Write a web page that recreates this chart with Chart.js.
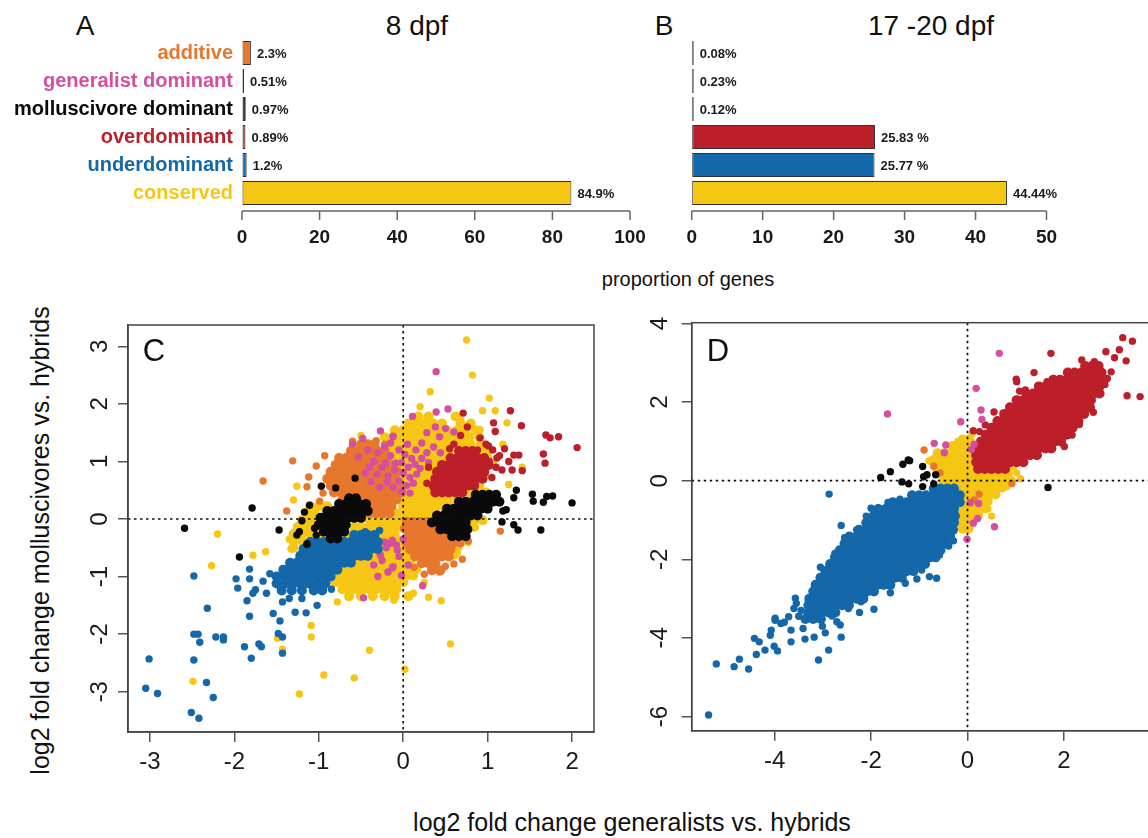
<!DOCTYPE html>
<html>
<head>
<meta charset="utf-8">
<script src="https://cdn.jsdelivr.net/npm/chart.js@4.4.1/dist/chart.umd.min.js"></script>
<style>
html, body { margin: 0; padding: 0; background: #fff; width: 1148px; height: 838px; overflow: hidden; }
body { position: relative; font-family: "Liberation Sans", Arial, sans-serif; color: #111; }
canvas { position: absolute; }
.t { position: absolute; white-space: nowrap; line-height: 1; }
</style>
</head>
<body>
<div class="t" style="left:85px;top:12px;font-size:28px;transform:translateX(-50%)">A</div>
<div class="t" style="left:417px;top:12px;font-size:28px;transform:translateX(-50%)">8 dpf</div>
<div class="t" style="left:664px;top:12px;font-size:28px;transform:translateX(-50%)">B</div>
<div class="t" style="left:931px;top:12px;font-size:28px;transform:translateX(-50%)">17 -20 dpf</div>
<div class="t" style="left:688px;top:269px;font-size:20px;transform:translateX(-50%)">proportion of genes</div>
<div class="t" style="left:632px;top:810px;font-size:25px;transform:translateX(-50%)">log2 fold change generalists vs. hybrids</div>
<div class="t" style="left:-260px;top:528px;width:600px;height:25px;font-size:25px;text-align:center;transform:rotate(-90deg)">log2 fold change molluscivores vs. hybrids</div>

<canvas id="barA" width="660" height="260" style="left:0;top:0"></canvas>
<canvas id="barB" width="488" height="260" style="left:660px;top:0"></canvas>
<canvas id="scatC" width="560" height="500" style="left:60px;top:300px"></canvas>
<canvas id="scatD" width="620" height="500" style="left:620px;top:300px"></canvas>

<div class="t" style="left:154px;top:335px;font-size:31px;transform:translateX(-50%)">C</div>
<div class="t" style="left:718px;top:335px;font-size:31px;transform:translateX(-50%)">D</div>

<script>
// ---- bar panels ----
const categories = ["additive", "generalist dominant", "molluscivore dominant", "overdominant", "underdominant", "conserved"];
const catColors = ["#e8772e", "#d64f9e", "#0a0a0a", "#bc1f29", "#1468a9", "#f5c714"];
const share8 = [2.3, 0.51, 0.97, 0.89, 1.2, 84.9];
const share8Labels = ["2.3%", "0.51%", "0.97%", "0.89%", "1.2%", "84.9%"];
const share17 = [0.08, 0.23, 0.12, 25.83, 25.77, 44.44];
const share17Labels = ["0.08%", "0.23%", "0.12%", "25.83 %", "25.77 %", "44.44%"];

// ---- scatter panel C (8 dpf): rows are [y, x, x, ...] (dense cores), points are [x, y] ----
const cYellowRows = [
  [1.78, 0.18, 0.30, 0.62],
  [1.66, 0.06, 0.16, 0.26, 0.36, 0.46, 0.68, 0.80],
  [1.54, -0.10, 0.00, 0.10, 0.20, 0.30, 0.40, 0.52, 0.64, 0.74, 0.86],
  [1.42, -0.22, -0.12, -0.02, 0.08, 0.18, 0.28, 0.38, 0.48, 0.58, 0.68, 0.78, 0.90],
  [1.30, -0.20, -0.10, 0.00, 0.10, 0.20, 0.30, 0.40, 0.50, 0.60, 0.70, 0.80, 0.92],
  [1.18, -0.16, -0.06, 0.04, 0.14, 0.24, 0.34, 0.44, 0.54, 0.90, 1.00],
  [1.06, -0.12, -0.02, 0.08, 0.18, 0.28, 0.38, 0.48, 1.00],
  [0.94, -0.06, 0.04, 0.14, 0.24, 0.34, 0.40, 1.06],
  [0.82, -0.04, 0.06, 0.16, 0.26, 0.34],
  [0.70, 0.00, 0.10, 0.20, 0.30],
  [0.58, 0.00, 0.10, 0.20, 0.28, 0.90],
  [0.46, 0.04, 0.12, 0.20, 0.28, 0.78, 0.88, 0.98],
  [0.34, -0.70, -0.62, 0.00, 0.08, 0.16, 0.24, 0.32, 0.40, 0.48, 0.56, 0.64],
  [0.22, -1.10, -1.00, -0.90, 0.00, 0.08, 0.16, 0.24, 0.32, 0.40, 0.48],
  [0.10, -1.15, -1.05, -0.40, -0.32, -0.24, -0.16, -0.08, 0.00, 0.08, 0.16, 0.24, 0.32],
  [-0.02, -1.20, -1.10, -0.40, -0.32, -0.24, -0.16, -0.08, 0.00, 0.08, 0.16, 0.24, 0.84, 0.94],
  [-0.14, -1.25, -1.15, -1.05, -0.58, -0.50, -0.42, -0.34, -0.26, -0.18, -0.10, -0.02, 0.06, 0.84],
  [-0.26, -1.30, -1.20, -1.10, -1.00, -0.66, -0.58, -0.50, -0.42, -0.34, -0.26, -0.18, -0.10, 0.60, 0.70],
  [-0.38, -1.30, -1.20, -0.22, -0.14, -0.06, 0.02, 0.70],
  [-0.50, -1.30, -0.24, -0.16, -0.08, 0.00, 0.64],
  [-0.62, -0.40, -0.32, -0.24, -0.16, -0.08, 0.00, 0.08, 0.60],
  [-0.74, -0.56, -0.48, -0.40, -0.32, -0.24, -0.16, -0.08, 0.00, 0.08],
  [-0.86, -0.72, -0.64, -0.56, -0.48, -0.40, -0.32, -0.24, -0.16, -0.08, 0.00, 0.08, 0.16],
  [-0.98, -0.76, -0.68, -0.60, -0.52, -0.44, -0.36, -0.28, -0.20, -0.12, -0.04, 0.04, 0.12],
  [-1.10, -0.80, -0.72, -0.64, -0.56, -0.48, -0.40, -0.32, -0.24, -0.16, -0.08, 0.00],
  [-1.22, -0.72, -0.64, -0.56, -0.48, -0.40, -0.32, -0.24, -0.16, -0.08],
  [-1.34, -0.64, -0.50, -0.36, -0.22, -0.10, 0.06]
];
const cYellowPts = [
  [0.75, 3.11], [0.82, 2.5], [0.32, 2.21], [1.02, 2.1], [1.09, 1.88], [0.94, 1.88], [1.23, 1.67], [0.68, 1.72],
  [0.76, 1.41], [0.91, 1.55], [1.41, 0.9], [0.56, -2.17], [0.02, -2.61], [0.45, -1.42], [0.3, -1.36], [-0.11, -1.41],
  [0.12, -1.29], [0.64, -0.59], [0.77, -0.41], [-2.27, -0.81], [-1.78, -0.63], [-1.63, -0.57], [-2.49, -2.82],
  [-1.09, -1.85], [-1.09, -2.05], [-1.43, -2.26], [-1.49, -2.07], [-0.94, -2.71], [-0.58, -2.76], [-1.23, -3.04],
  [-0.4, -2.28], [-0.78, -1.44], [-0.65, -1.36], [-2.2, -0.26], [-1.3, 0.33], [-1.26, 0.57], [-1.35, -0.35],
  [-1.33, -0.52], [-0.34, 1.27], [-0.24, 1.11], [-0.12, 1.22], [1.18, 1.3], [1.25, 0.6], [0.98, 0.75],
  [-0.5, 1.45], [0.2, 1.95], [-0.95, -1.2], [0.25, -1.1], [0.35, -0.9]
];
const cOrangeRows = [
  [1.30, -0.50, -0.42, -0.34],
  [1.18, -0.62, -0.54, -0.46, -0.38, -0.30, -0.22],
  [1.06, -0.76, -0.68, -0.60, -0.52, -0.44, -0.36, -0.28, -0.20],
  [0.94, -0.80, -0.72, -0.64, -0.56, -0.48, -0.40, -0.32, -0.24, -0.16],
  [0.82, -0.86, -0.78, -0.70, -0.62, -0.54, -0.46, -0.38, -0.30, -0.22, -0.14, -0.07],
  [0.70, -0.90, -0.82, -0.74, -0.66, -0.58, -0.50, -0.42, -0.34, -0.26, -0.18, -0.10],
  [0.58, -0.86, -0.78, -0.70, -0.62, -0.54, -0.46, -0.38, -0.30, -0.22, -0.14, -0.06],
  [0.46, -0.82, -0.74, -0.66, -0.58, -0.50, -0.42, -0.34, -0.26, -0.18, -0.10, -0.02],
  [0.34, -0.72, -0.64, -0.56, -0.48, -0.40, -0.32, -0.24, -0.16, -0.08],
  [0.22, -0.62, -0.54, -0.46, -0.38, -0.30, -0.22, -0.14],
  [0.10, -0.48, -0.40, -0.32, -0.24, -0.16],
  [-0.05, 0.04, 0.12, 0.20, 0.28],
  [-0.17, 0.02, 0.10, 0.18, 0.26, 0.34, 0.42],
  [-0.29, 0.06, 0.14, 0.22, 0.30, 0.38, 0.46, 0.54],
  [-0.41, 0.04, 0.12, 0.20, 0.28, 0.36, 0.44, 0.52, 0.60],
  [-0.53, 0.08, 0.16, 0.24, 0.32, 0.40, 0.48, 0.56],
  [-0.65, 0.14, 0.22, 0.30, 0.38, 0.46, 0.54],
  [-0.77, 0.22, 0.30, 0.38],
  [-0.89, 0.34, 0.44]
];
const cOrangePts = [
  [-1.31, 1.01], [-1.66, 0.66], [-1.12, 0.73], [-1.03, 0.92], [-1.14, 0.56], [-0.99, 0.31], [-1.38, 0.14],
  [-0.32, 1.36], [-0.93, 1.1], [-0.95, 0.45], [-0.6, 1.35], [-0.22, 1.3], [0.68, -0.43], [0.5, -0.82],
  [0.43, -0.92], [0.23, -0.77], [0.25, -0.96], [0.13, -0.84], [1.15, -0.21], [0.77, -0.38], [0.7, -0.7], [0.6, -0.78]
];
const cPinkPts = [
  [-0.27, 1.53], [-0.12, 1.44], [-0.53, 1.08], [-0.45, 0.8], [-0.31, 0.78], [-0.21, 0.97], [-0.19, 0.64], [-0.09, 0.97],
  [0.39, 2.56], [0.53, 1.91], [0.39, 1.86], [0.11, 1.78], [-0.12, 1.43], [0.38, 1.6], [0.5, 1.57], [0.6, 1.51],
  [0.28, 1.5], [0.43, 1.43], [0.36, 1.25], [0.44, 1.15], [0.22, 1.32], [-0.05, 1.2], [0.02, 1.12], [0.1, 1.05],
  [-0.15, 1.1], [-0.02, 0.98], [0.06, 0.9], [0.14, 0.95], [-0.1, 0.85], [0.0, 0.8], [0.08, 0.72], [0.16, 0.78],
  [-0.18, 0.75], [-0.05, 0.66], [0.04, 0.58], [0.12, 0.62], [-0.12, 0.55], [-0.02, 0.48], [0.08, 0.45], [-0.25, 0.9],
  [-0.35, 1.0], [-0.3, 1.15], [-0.22, 1.25], [-0.4, 0.9], [-0.38, 0.65], [-0.28, 0.55], [0.2, 0.88], [0.22, 1.05],
  [0.28, 1.15], [0.3, 0.98], [-0.42, 1.2], [-0.15, 1.32], [0.05, 1.3], [0.15, 1.2], [-0.6, 1.3], [-0.48, 1.4],
  [-0.13, -0.37], [-0.07, -0.54], [-0.15, -0.42], [-0.27, -0.63], [-0.12, -0.83], [-0.47, -1.37], [-0.13, -0.85],
  [0.06, -0.8], [0.23, -1.16], [-0.2, -0.5], [-0.25, -0.72], [-0.3, -0.55], [-0.05, -0.65], [-0.18, -0.92],
  [-0.08, -0.45], [-0.35, -0.8], [-0.22, -0.4], [0.0, -0.35], [-0.02, -0.98], [-0.3, -1.0]
];
const cRedRows = [
  [1.18, 0.66, 0.74, 0.82],
  [1.06, 0.56, 0.64, 0.72, 0.80, 0.88, 0.96],
  [0.94, 0.46, 0.54, 0.62, 0.70, 0.78, 0.86, 0.94, 1.01],
  [0.82, 0.40, 0.48, 0.56, 0.64, 0.72, 0.80, 0.88, 0.96],
  [0.70, 0.38, 0.46, 0.54, 0.62, 0.70, 0.78, 0.86, 0.94],
  [0.58, 0.36, 0.44, 0.52, 0.60, 0.68, 0.76, 0.84],
  [0.46, 0.38, 0.46, 0.54, 0.62, 0.70]
];
const cRedPts = [
  [0.71, 1.84], [1.27, 1.88], [1.4, 1.62], [1.69, 1.46], [1.74, 1.41], [1.84, 1.43], [2.06, 1.24], [1.66, 1.13],
  [1.68, 0.97], [1.41, 0.84], [1.29, 0.85], [1.37, 1.11], [1.31, 1.11], [0.76, 1.6], [1.07, 1.67], [1.09, 1.52],
  [1.01, 1.27], [0.91, 1.41], [1.17, 0.85], [1.11, 1.06], [1.06, 1.2], [1.14, 1.1], [1.2, 1.22], [1.25, 1.0],
  [1.02, 1.0], [1.1, 0.9], [0.98, 1.3], [0.6, 1.3], [0.68, 1.45], [0.55, 1.22], [0.88, 1.2], [0.3, 0.9],
  [0.28, 0.62], [1.05, 0.72]
];
const cBlackRows = [
  [0.42, 0.86, 0.94, 1.02, 1.10],
  [0.30, 0.66, 0.74, 0.82, 0.90, 0.98, 1.06, 1.14],
  [0.18, 0.52, 0.60, 0.68, 0.76, 0.84, 0.92, 1.00],
  [0.06, 0.40, 0.48, 0.56, 0.64, 0.72, 0.80, 0.88],
  [-0.06, 0.34, 0.42, 0.50, 0.58, 0.66, 0.74],
  [-0.18, 0.44, 0.52, 0.60, 0.68, 0.76],
  [-0.30, 0.58, 0.66, 0.74],
  [0.36, -0.64, -0.56],
  [0.26, -0.76, -0.68, -0.60, -0.52, -0.44],
  [0.14, -0.90, -0.82, -0.74, -0.66, -0.58, -0.50, -0.42],
  [0.02, -0.98, -0.90, -0.82, -0.74, -0.66, -0.58, -0.50],
  [-0.10, -1.00, -0.92, -0.84, -0.76, -0.68],
  [-0.22, -0.94, -0.86, -0.78, -0.70],
  [-0.34, -0.86, -0.78]
];
const cBlackPts = [
  [-2.59, -0.16], [-1.79, 0.19], [-1.47, -0.19], [-1.94, -0.66], [-1.14, -0.44], [-0.97, 0.57], [-0.8, 0.54],
  [-0.57, 0.71], [-1.11, 0.24], [-1.17, 0.12], [-1.2, -0.03], [-1.23, -0.22], [-1.26, -0.28], [-1.14, -0.43],
  [-1.05, -0.16], [-1.03, -0.28], [1.34, 0.5], [1.53, 0.43], [1.54, 0.31], [1.66, 0.29], [1.7, 0.39], [1.77, 0.4],
  [2.0, 0.28], [1.31, 0.37], [1.63, -0.19], [1.36, -0.19], [1.31, -0.1], [1.17, -0.05], [1.18, 0.14], [1.22, 0.16],
  [1.09, 0.38]
];
const cBlueRows = [
  [-0.28, -0.58, -0.50, -0.42, -0.34],
  [-0.40, -1.10, -1.02, -0.94, -0.86, -0.78, -0.70, -0.62, -0.54, -0.46, -0.38, -0.30],
  [-0.52, -1.18, -1.10, -1.02, -0.94, -0.86, -0.78, -0.70, -0.62, -0.54, -0.46, -0.38, -0.30],
  [-0.64, -1.22, -1.14, -1.06, -0.98, -0.90, -0.82, -0.74, -0.66, -0.58, -0.50, -0.42],
  [-0.76, -1.34, -1.26, -1.18, -1.10, -1.02, -0.94, -0.86, -0.78, -0.70, -0.62],
  [-0.88, -1.42, -1.34, -1.26, -1.18, -1.10, -1.02, -0.94, -0.86, -0.78],
  [-1.00, -1.50, -1.42, -1.34, -1.26, -1.18, -1.10, -1.02, -0.94, -0.86],
  [-1.12, -1.50, -1.40, -1.30, -1.22, -1.12, -1.02, -0.92],
  [-1.24, -1.44, -1.32, -1.20, -1.06, -0.96]
];
const cBluePts = [
  [-2.48, -0.99], [-1.98, -1.04], [-1.96, -1.2], [-1.82, -0.87], [-1.82, -1.04], [-1.85, -1.42], [-1.78, -1.29],
  [-1.75, -1.23], [-1.62, -1.29], [-1.82, -1.69], [-2.32, -1.55], [-2.48, -2.0], [-2.43, -2.0], [-2.41, -2.14],
  [-2.22, -2.05], [-2.13, -2.05], [-2.13, -2.1], [-3.01, -2.43], [-2.48, -2.45], [-3.05, -2.94], [-2.91, -3.03],
  [-2.33, -2.84], [-2.25, -3.1], [-2.51, -3.36], [-2.42, -3.46], [-1.88, -2.22], [-1.8, -2.42], [-1.71, -2.17],
  [-1.68, -2.22], [-1.48, -1.99], [-1.43, -2.05], [-1.43, -2.33], [-1.46, -1.77], [-1.54, -1.64], [-1.43, -1.44],
  [-1.28, -1.62], [-1.15, -1.63], [-1.02, -1.5], [-1.5, -1.1], [-1.58, -0.95], [-1.66, -1.08], [-1.35, -1.38],
  [-1.2, -1.38], [-0.85, -1.22], [-0.28, -0.2], [-0.45, -0.22]
];

// ---- scatter panel D (17-20 dpf) ----
const dYellowRows = [
  [1.05, -0.10, 0.04],
  [0.88, -0.30, -0.16, -0.02, 0.12],
  [0.70, -0.62, -0.48, -0.34, -0.20, -0.06, 0.08],
  [0.53, -0.70, -0.56, -0.42, -0.28, -0.14, 0.00, 0.12],
  [0.35, -0.66, -0.52, -0.38, -0.24, -0.10, 0.04, 0.14],
  [0.18, -0.56, -0.42, -0.28, -0.14, 0.00, 0.14, 0.28, 0.42, 0.56, 0.70, 0.84],
  [0.00, -0.50, -0.36, -0.22, -0.08, 0.06, 0.20, 0.34, 0.48, 0.62, 0.76, 0.90],
  [-0.17, -0.40, -0.26, -0.12, 0.02, 0.16, 0.30, 0.44, 0.58, 0.72],
  [-0.35, -0.26, -0.12, 0.02, 0.16, 0.30, 0.44, 0.58],
  [-0.52, -0.14, 0.00, 0.14, 0.28, 0.42],
  [-0.70, -0.18, -0.04, 0.10, 0.24, 0.36],
  [-0.87, -0.20, -0.06, 0.08, 0.22],
  [-1.05, -0.16, -0.02, 0.10],
  [-1.22, -0.10, 0.02]
];
const dYellowPts = [
  [1.02, 0.2], [0.95, 0.35], [1.1, 0.05], [0.5, -0.9], [0.42, -0.72], [0.82, -0.15], [-0.8, 0.5], [0.1, 1.2], [-0.2, 1.0]
];
const dRedRows = [
  [0.30, 0.22, 0.36, 0.50, 0.64, 0.78],
  [0.47, 0.18, 0.32, 0.46, 0.60, 0.74, 0.88, 1.02, 1.16],
  [0.65, 0.18, 0.32, 0.46, 0.60, 0.74, 0.88, 1.02, 1.16, 1.30, 1.44],
  [0.82, 0.22, 0.36, 0.50, 0.64, 0.78, 0.92, 1.06, 1.20, 1.34, 1.48, 1.62, 1.74],
  [1.00, 0.28, 0.42, 0.56, 0.70, 0.84, 0.98, 1.12, 1.26, 1.40, 1.54, 1.68, 1.82, 1.94],
  [1.17, 0.38, 0.52, 0.66, 0.80, 0.94, 1.08, 1.22, 1.36, 1.50, 1.64, 1.78, 1.92, 2.06],
  [1.35, 0.50, 0.64, 0.78, 0.92, 1.06, 1.20, 1.34, 1.48, 1.62, 1.76, 1.90, 2.04, 2.18],
  [1.52, 0.62, 0.76, 0.90, 1.04, 1.18, 1.32, 1.46, 1.60, 1.74, 1.88, 2.02, 2.16, 2.30],
  [1.70, 0.76, 0.90, 1.04, 1.18, 1.32, 1.46, 1.60, 1.74, 1.88, 2.02, 2.16, 2.30, 2.42],
  [1.87, 0.88, 1.02, 1.16, 1.30, 1.44, 1.58, 1.72, 1.86, 2.00, 2.14, 2.28, 2.42, 2.54],
  [2.05, 1.02, 1.16, 1.30, 1.44, 1.58, 1.72, 1.86, 2.00, 2.14, 2.28, 2.42, 2.56],
  [2.22, 1.22, 1.36, 1.50, 1.64, 1.78, 1.92, 2.06, 2.20, 2.34, 2.48, 2.62, 2.74],
  [2.40, 1.48, 1.62, 1.76, 1.90, 2.04, 2.18, 2.32, 2.46, 2.60, 2.74],
  [2.57, 1.78, 1.92, 2.06, 2.20, 2.34, 2.48, 2.62, 2.76],
  [2.75, 2.08, 2.22, 2.36, 2.50, 2.64, 2.78],
  [2.92, 2.44, 2.58, 2.72]
];
const dRedPts = [
  [1.73, 3.24], [3.22, 3.64], [3.42, 3.55], [2.87, 3.28], [3.15, 3.33], [3.05, 3.13], [3.29, 3.05], [2.37, 3.07],
  [2.63, 3.03], [3.31, 2.16], [3.58, 2.14], [2.61, 1.74], [2.32, 1.43], [2.01, 0.87], [2.17, 1.16], [1.38, 2.75],
  [1.01, 2.58], [1.02, 2.52], [1.08, 2.28], [1.2, 2.31], [1.65, 2.52], [2.74, 2.77], [2.98, 2.77], [0.12, 1.27],
  [0.37, 1.42], [0.25, 1.25], [2.9, 2.6], [2.85, 2.45], [0.55, 1.75]
];
const dBlueRows = [
  [-0.20, -0.70, -0.56, -0.42, -0.28],
  [-0.37, -1.15, -1.00, -0.86, -0.72, -0.58, -0.44, -0.30, -0.16],
  [-0.55, -1.55, -1.40, -1.26, -1.12, -0.98, -0.84, -0.70, -0.56, -0.42, -0.28, -0.16],
  [-0.72, -1.85, -1.70, -1.55, -1.40, -1.26, -1.12, -0.98, -0.84, -0.70, -0.56, -0.42, -0.28],
  [-0.90, -1.95, -1.80, -1.66, -1.52, -1.38, -1.24, -1.10, -0.96, -0.82, -0.68, -0.54, -0.40, -0.26],
  [-1.07, -2.10, -1.95, -1.80, -1.66, -1.52, -1.38, -1.24, -1.10, -0.96, -0.82, -0.68, -0.54, -0.40, -0.28],
  [-1.25, -2.25, -2.10, -1.95, -1.80, -1.66, -1.52, -1.38, -1.24, -1.10, -0.96, -0.82, -0.68, -0.54, -0.40, -0.30],
  [-1.42, -2.45, -2.30, -2.16, -2.02, -1.88, -1.74, -1.60, -1.46, -1.32, -1.18, -1.04, -0.90, -0.76, -0.62, -0.48, -0.36],
  [-1.60, -2.55, -2.40, -2.26, -2.12, -1.98, -1.84, -1.70, -1.56, -1.42, -1.28, -1.14, -1.00, -0.86, -0.72, -0.58, -0.46],
  [-1.77, -2.65, -2.50, -2.36, -2.22, -2.08, -1.94, -1.80, -1.66, -1.52, -1.38, -1.24, -1.10, -0.96, -0.82, -0.68, -0.56],
  [-1.95, -2.75, -2.60, -2.46, -2.32, -2.18, -2.04, -1.90, -1.76, -1.62, -1.48, -1.34, -1.20, -1.06, -0.92, -0.78, -0.66],
  [-2.12, -2.85, -2.70, -2.56, -2.42, -2.28, -2.14, -2.00, -1.86, -1.72, -1.58, -1.44, -1.30, -1.16, -1.02, -0.88],
  [-2.30, -2.95, -2.80, -2.66, -2.52, -2.38, -2.24, -2.10, -1.96, -1.82, -1.68, -1.54, -1.40, -1.26, -1.12],
  [-2.47, -3.05, -2.90, -2.76, -2.62, -2.48, -2.34, -2.20, -2.06, -1.92, -1.78, -1.64, -1.50, -1.36],
  [-2.65, -3.15, -3.00, -2.86, -2.72, -2.58, -2.44, -2.30, -2.16, -2.02, -1.88, -1.74, -1.60],
  [-2.82, -3.20, -3.06, -2.92, -2.78, -2.64, -2.50, -2.36, -2.22, -2.08, -1.94],
  [-3.00, -3.28, -3.14, -3.00, -2.86, -2.72, -2.58, -2.44, -2.30, -2.16],
  [-3.17, -3.30, -3.16, -3.02, -2.88, -2.74, -2.60, -2.46],
  [-3.35, -3.30, -3.16, -3.02, -2.88, -2.74],
  [-3.52, -3.36, -3.20, -3.04]
];
const dBluePts = [
  [-5.37, -5.96], [-5.21, -4.66], [-4.84, -4.73], [-4.73, -4.54], [-4.54, -4.79], [-4.38, -4.42], [-4.42, -4.01],
  [-4.32, -4.1], [-4.2, -4.31], [-4.09, -3.93], [-4.07, -3.8], [-3.99, -3.5], [-4.01, -4.21], [-3.94, -4.33],
  [-3.87, -3.63], [-3.66, -3.8], [-3.66, -4.1], [-3.71, -3.46], [-3.57, -2.99], [-3.55, -3.12], [-3.41, -3.76],
  [-3.37, -4.03], [-3.3, -3.06], [-3.18, -3.98], [-3.09, -4.56], [-3.01, -3.7], [-2.95, -3.87], [-2.88, -4.31],
  [-2.81, -3.44], [-2.71, -3.59], [-2.64, -3.67], [-2.62, -3.98], [-2.47, -3.25], [-2.24, -3.35], [-1.94, -3.27],
  [-2.21, -3.08], [-3.99, -3.55], [-3.19, -2.82], [-2.87, -0.34], [-2.62, -1.14], [-1.4, -0.47], [-2.0, -0.7],
  [-1.85, -0.7], [-0.64, -2.48], [-0.79, -2.44], [-0.58, -1.89], [-0.39, -1.66], [-0.29, -1.53], [-0.95, -2.27],
  [-1.29, -2.61], [-3.45, -3.3], [-3.6, -3.25], [-3.8, -3.6], [-3.5, -3.45], [-2.3, -1.25], [-2.55, -1.45],
  [-2.1, -0.9], [-1.65, -0.55], [-3.05, -2.2], [-2.75, -1.85], [-1.05, -2.5], [-1.6, -2.85]
];
const dPinkPts = [
  [-1.66, 1.70], [0.66, 3.24], [0.18, 2.35], [0.28, 1.8], [0.3, 1.56], [-0.14, 1.5], [-0.69, 0.95], [-0.45, 0.91],
  [0.14, 0.93], [0.08, 0.8], [-0.48, 0.71], [0.06, -0.56], [0.23, -0.58], [0.21, -0.96], [0.12, -1.08],
  [0.56, -1.17], [-0.01, -1.49]
];
const dOrangePts = [[-0.9, 0.78], [-0.7, 0.37], [-0.57, 0.2], [0.92, -0.07], [0.24, -0.34], [0.14, -0.49]];
const dBlackPts = [
  [-1.8, 0.08], [-1.6, 0.23], [-1.34, 0.42], [-1.23, 0.53], [-1.36, -0.03], [-1.22, -0.08], [-0.93, 0.36],
  [-0.84, 0.15], [-0.91, 0.1], [-0.66, 0.15], [-0.93, -0.15], [-0.7, -0.08], [1.67, -0.17], [-1.2, 0.51]
];

const FONT = "'Liberation Sans', Arial, sans-serif";
Chart.defaults.font.family = FONT;
Chart.defaults.color = "#1a1a1a";

// rows stand for the crowded cores, so their dots are drawn a bit larger to close the gaps
const toPoints = (rows, extra) => {
  const pts = [];
  rows.forEach(([y, ...xs]) => xs.forEach((x) => pts.push({ x, y, core: true })));
  extra.forEach(([x, y]) => pts.push({ x, y, core: false }));
  return pts;
};

// value text right of each bar
const barValueLabels = {
  id: "barValueLabels",
  afterDatasetsDraw(chart, args, opts) {
    const ctx = chart.ctx;
    ctx.save();
    ctx.font = "bold 13px " + FONT;
    ctx.fillStyle = "#1a1a1a";
    ctx.textBaseline = "middle";
    chart.getDatasetMeta(0).data.forEach((bar, i) => {
      ctx.fillText(opts.labels[i], bar.x + 6, bar.y + 1);
    });
    ctx.restore();
  },
};

// R-style x axis: line from first to last tick, a little below the bars
const barAxis = {
  id: "barAxis",
  afterDraw(chart) {
    const { ctx, chartArea } = chart;
    const s = chart.scales.x;
    const y = chartArea.bottom + 4;
    ctx.save();
    ctx.strokeStyle = "#666";
    ctx.lineWidth = 1.5;
    ctx.beginPath();
    ctx.moveTo(s.getPixelForValue(s.min), y);
    ctx.lineTo(s.getPixelForValue(s.max), y);
    s.ticks.forEach((t) => {
      const px = s.getPixelForValue(t.value);
      ctx.moveTo(px, y);
      ctx.lineTo(px, y + 9);
    });
    ctx.stroke();
    ctx.restore();
  },
};

const makeBar = (id, values, labels, maxX, step, yWidth, showCats, pad) => {
  return new Chart(document.getElementById(id), {
    type: "bar",
    data: {
      labels: categories,
      datasets: [{
        data: values,
        backgroundColor: catColors,
        borderColor: "#333",
        borderWidth: 1,
        borderSkipped: false,
        minBarLength: 2,
        categoryPercentage: 1,
        barPercentage: 0.85,
      }],
    },
    options: {
      indexAxis: "y",
      responsive: false,
      animation: false,
      events: [],
      layout: { padding: pad },
      plugins: { legend: { display: false }, tooltip: { enabled: false }, barValueLabels: { labels } },
      scales: {
        x: {
          min: 0,
          max: maxX,
          afterFit: (s) => { s.height = 53; },
          // invisible tick marks push the labels down without widening the side padding
          grid: { display: true, drawOnChartArea: false, drawTicks: true, tickLength: 7, color: "rgba(0,0,0,0)" },
          border: { display: false },
          ticks: { stepSize: step, font: { size: 19, weight: "bold" }, color: "#1a1a1a", padding: 12, maxRotation: 0 },
        },
        y: {
          afterFit: (s) => { s.width = yWidth; },
          grid: { display: false, drawTicks: false },
          border: { display: false },
          ticks: {
            display: showCats,
            font: { size: 20, weight: "bold" },
            color: (c) => catColors[c.index],
            padding: 9,
          },
        },
      },
    },
    plugins: [barValueLabels, barAxis],
  });
};

makeBar("barA", share8, share8Labels, 100, 20, 242, true, { top: 39, right: 30, bottom: 0, left: 0 });
makeBar("barB", share17, share17Labels, 50, 10, 31.7, false, { top: 39, right: 101.5, bottom: 0, left: 0 });

// box, dotted zero lines and rotated y tick labels for the scatter panels
const rFrame = {
  id: "rFrame",
  afterDatasetsDraw(chart) {
    const { ctx, chartArea: a } = chart;
    const x0 = chart.scales.x.getPixelForValue(0);
    const y0 = chart.scales.y.getPixelForValue(0);
    ctx.save();
    ctx.strokeStyle = "#111";
    ctx.lineWidth = 1.7;
    ctx.setLineDash([2.5, 3.5]);
    ctx.beginPath();
    ctx.moveTo(x0, a.top);
    ctx.lineTo(x0, a.bottom);
    ctx.moveTo(a.left, y0);
    ctx.lineTo(a.right, y0);
    ctx.stroke();
    ctx.setLineDash([]);
    ctx.strokeStyle = "#444";
    ctx.lineWidth = 1.5;
    ctx.strokeRect(a.left, a.top, a.right - a.left, a.bottom - a.top);
    ctx.restore();
  },
  afterDraw(chart, args, opts) {
    const { ctx, chartArea: a } = chart;
    const s = chart.scales.y;
    ctx.save();
    ctx.font = "24px " + FONT;
    ctx.fillStyle = "#1a1a1a";
    ctx.textAlign = "center";
    ctx.textBaseline = "alphabetic";
    s.ticks.forEach((t) => {
      ctx.save();
      ctx.translate(a.left - opts.gap, s.getPixelForValue(t.value));
      ctx.rotate(-Math.PI / 2);
      ctx.fillText(String(t.value), 0, 0);
      ctx.restore();
    });
    ctx.restore();
  },
};

const dot = (data, color) => ({
  data,
  backgroundColor: color,
  borderWidth: 0,
  pointRadius: (c) => (c.raw && c.raw.core ? 5 : 3.7),
  pointHoverRadius: (c) => (c.raw && c.raw.core ? 5 : 3.7),
});

const makeScatter = (id, datasets, xr, yr, xStep, yStep, yWidth, gap, pad) => {
  return new Chart(document.getElementById(id), {
    type: "scatter",
    data: { datasets },
    options: {
      responsive: false,
      animation: false,
      events: [],
      layout: { padding: pad },
      plugins: { legend: { display: false }, tooltip: { enabled: false }, rFrame: { gap } },
      scales: {
        x: {
          min: xr[0],
          max: xr[1],
          afterFit: (s) => { s.height = 60; },
          grid: { drawOnChartArea: false, tickLength: 10, color: "#555", tickColor: "#555", lineWidth: 1.5 },
          border: { display: true, color: "#444", width: 1.5 },
          ticks: { stepSize: xStep, includeBounds: false, font: { size: 24 }, color: "#1a1a1a", padding: 6, maxRotation: 0, autoSkip: false },
        },
        y: {
          min: yr[0],
          max: yr[1],
          afterFit: (s) => { s.width = yWidth; },
          grid: { drawOnChartArea: false, tickLength: 10, color: "#555", tickColor: "#555", lineWidth: 1.5 },
          border: { display: true, color: "#444", width: 1.5 },
          ticks: { stepSize: yStep, includeBounds: false, font: { size: 10 }, color: "rgba(0,0,0,0)", autoSkip: false },
        },
      },
    },
    plugins: [rFrame],
  });
};

// first dataset is drawn on top
makeScatter("scatC", [
  dot(toPoints(cBlackRows, cBlackPts), "#0a0a0a"),
  dot(toPoints(cBlueRows, cBluePts), "#1468a9"),
  dot(toPoints(cRedRows, cRedPts), "#bc1f29"),
  dot(toPoints([], cPinkPts), "#d64f9e"),
  dot(toPoints(cOrangeRows, cOrangePts), "#e8772e"),
  dot(toPoints(cYellowRows, cYellowPts), "#f5c714"),
], [-3.26, 2.26], [-3.70, 3.37], 1, 1, 68, 21, { top: 25, right: 26, bottom: 8, left: 0 });

makeScatter("scatD", [
  dot(toPoints([], dBlackPts), "#0a0a0a"),
  dot(toPoints([], dPinkPts), "#d64f9e"),
  dot(toPoints([], dOrangePts), "#e8772e"),
  dot(toPoints(dBlueRows, dBluePts), "#1468a9"),
  dot(toPoints(dRedRows, dRedPts), "#bc1f29"),
  dot(toPoints(dYellowRows, dYellowPts), "#f5c714"),
], [-5.72, 4.2], [-6.36, 4.02], 2, 2, 71.7, 24.7, { top: 22.7, right: 70, bottom: 9.3, left: 0 });
</script>
</body>
</html>
